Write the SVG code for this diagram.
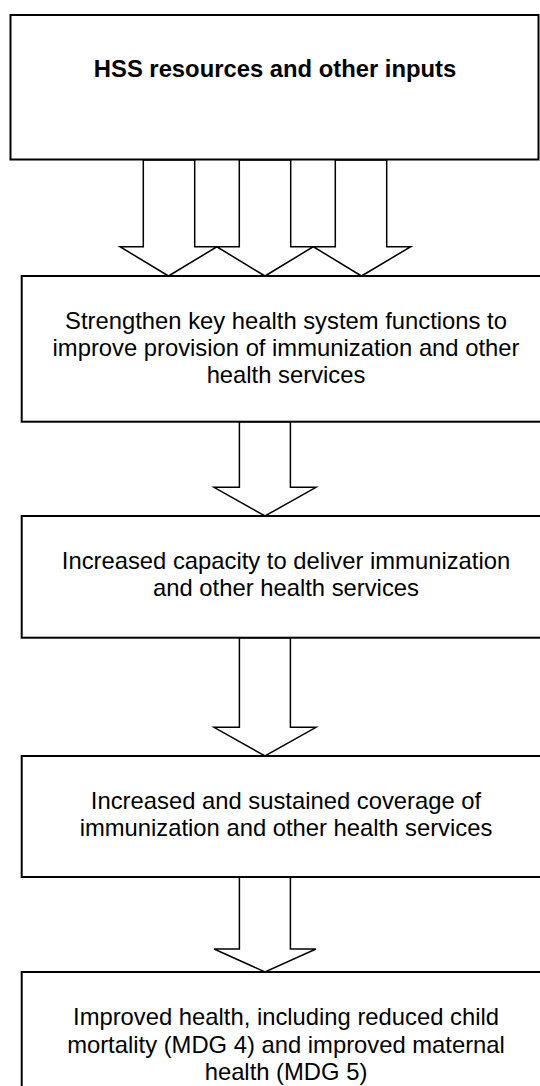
<svg xmlns="http://www.w3.org/2000/svg" width="540" height="1086" viewBox="0 0 540 1086">
  <style>
    .box { fill: #ffffff; stroke: #000000; stroke-width: 2; }
    .arrow { fill: #ffffff; stroke: #000000; stroke-width: 1.5; stroke-linejoin: miter; }
    .label { font-family: "Liberation Sans", Arial, sans-serif; font-size: 23.8px; fill: #000000; text-anchor: middle; }
    .bold { font-weight: bold; }
  </style>
  <rect width="540" height="1086" fill="#ffffff"/>

  <!-- block arrows between the stages -->
  <g id="connectors">
    <polygon class="arrow" points="143.3,160 194.7,160 194.7,246.7 217,246.7 168.5,276 120,246.7 143.3,246.7"/>
    <polygon class="arrow" points="239.3,160 290.7,160 290.7,246.7 313.3,246.7 265,276 216.7,246.7 239.3,246.7"/>
    <polygon class="arrow" points="335.3,160 386.7,160 386.7,246.7 410.7,246.7 361.5,276 313.3,246.7 335.3,246.7"/>
    <polygon class="arrow" points="239.4,421.7 290.4,421.7 290.4,487.3 316,487.3 265,516 214,487.3 239.4,487.3"/>
    <polygon class="arrow" points="239.4,637.7 290.4,637.7 290.4,727.3 316,727.3 265,756 214,727.3 239.4,727.3"/>
    <polygon class="arrow" points="239.4,877 290.4,877 290.4,949 316,949 265,972 214,949 239.4,949"/>
  </g>

  <g id="inputs">
    <rect class="box" x="10.5" y="15" width="528" height="144.5"/>
    <text class="label bold" x="275" y="77">HSS resources and other inputs</text>
  </g>

  <g id="functions">
    <rect class="box" x="21.7" y="276" width="530" height="145.7"/>
    <text class="label" x="286" y="329.3">Strengthen key health system functions to</text>
    <text class="label" x="286" y="356.3">improve provision of immunization and other</text>
    <text class="label" x="286" y="383.3">health services</text>
  </g>

  <g id="capacity">
    <rect class="box" x="21.7" y="516" width="530" height="121.7"/>
    <text class="label" x="286" y="568.5">Increased capacity to deliver immunization</text>
    <text class="label" x="286" y="595.5">and other health services</text>
  </g>

  <g id="coverage">
    <rect class="box" x="21.7" y="756" width="530" height="121"/>
    <text class="label" x="286" y="808.7">Increased and sustained coverage of</text>
    <text class="label" x="286" y="836">immunization and other health services</text>
  </g>

  <g id="impact">
    <rect class="box" x="21.7" y="972" width="530" height="130"/>
    <text class="label" x="286" y="1025">Improved health, including reduced child</text>
    <text class="label" x="286" y="1052.5">mortality (MDG 4) and improved maternal</text>
    <text class="label" x="286" y="1079.5">health (MDG 5)</text>
  </g>
</svg>
